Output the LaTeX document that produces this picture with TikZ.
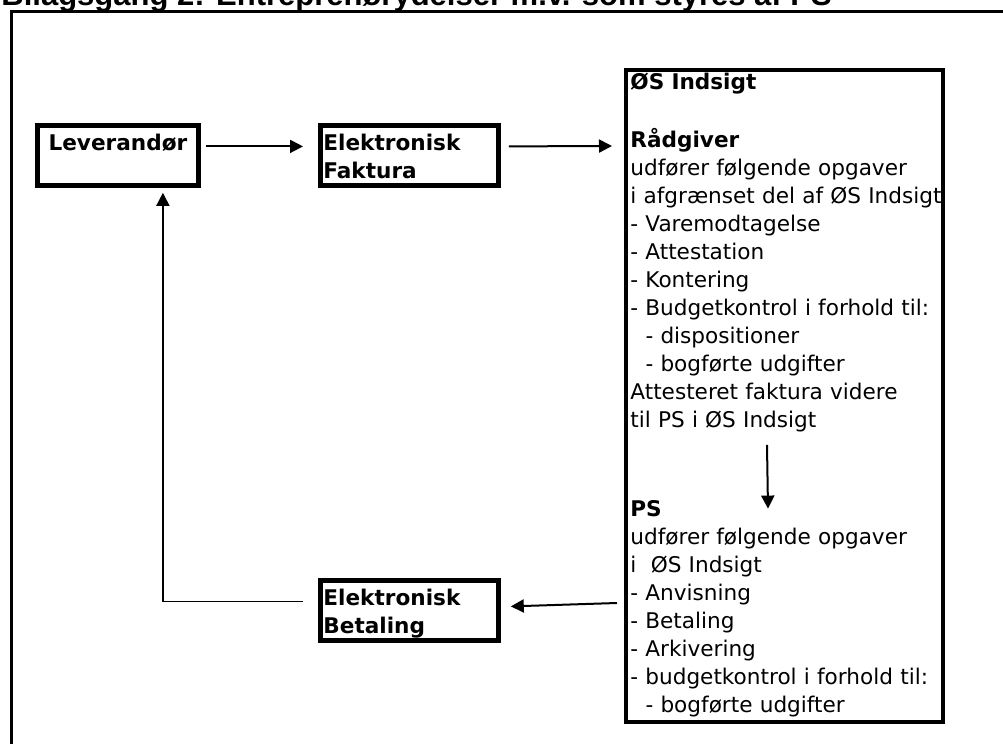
\documentclass[tikz,border=0pt]{standalone}
\usepackage{fontspec}
\setmainfont{DejaVu Sans}
\newfontfamily\titlefont{Liberation Sans}
\usetikzlibrary{arrows.meta}
\newcommand{\txtfont}{\fontsize{10.8pt}{14pt}\selectfont}
\tikzset{
  box/.style={draw, line width=2.4pt, inner xsep=1.5pt, inner ysep=2.5pt,
    text height=10pt, text depth=15pt, text width=86pt, align=left,
    font=\txtfont\bfseries, anchor=north west},
  bigbox/.style={draw, line width=2pt, inner sep=0pt, anchor=north west,
    minimum width=158.5pt, minimum height=326pt},
  txt/.style={inner sep=0pt, align=left, text width=160pt, font=\txtfont,
    anchor=base west},
  arr/.style={line width=1pt, -{Triangle[length=6.5pt, width=6.5pt]}},
  frame/.style={line width=1.5pt}
}

\begin{document}
\begin{tikzpicture}[x=0.5pt, y=-0.5pt]
    \useasboundingbox (0,0) rectangle (1003,744);
    \clip (0,0) rectangle (1003,744);
    \draw[frame] (11,11) rectangle (1030,770);
    \node[anchor=base west, inner sep=0pt, font=\titlefont\bfseries\fontsize{15.5pt}{18pt}\selectfont] (title) at (1,5) {Bilagsgang 2: Entreprenørydelser m.v. som styres af PS};

    \node[box, text width=77.5pt, align=center] (Leverandor) at (35,123) {Leverandør};
    \node[box] (Faktura) at (318,123) {Elektronisk\\Faktura};
    \node[box] (Betaling) at (318,578) {Elektronisk\\Betaling};
    \node[bigbox] (OS) at (624,68) {};

    \node[txt] (Radgiver) at (630,90) {\textbf{ØS Indsigt}\\[15pt]
      \textbf{Rådgiver}\\
      udfører følgende opgaver\\
      i afgrænset del af ØS Indsigt\\
      - Varemodtagelse\\
      - Attestation\\
      - Kontering\\
      - Budgetkontrol i forhold til:\\
      \hspace*{0.7em}- dispositioner\\
      \hspace*{0.7em}- bogførte udgifter\\
      Attesteret faktura videre\\
      til PS i ØS Indsigt};
    \node[txt] (PS) at (630,516) {\textbf{PS}\\
      udfører følgende opgaver\\
      i\ \ ØS Indsigt\\
      - Anvisning\\
      - Betaling\\
      - Arkivering\\
      - budgetkontrol i forhold til:\\
      \hspace*{0.7em}- bogførte udgifter};

    \draw[arr] ([shift={(5,-9)}]Leverandor.east) -- ([shift={(-15,-9)}]Faktura.west);
    \draw[arr] ([shift={(8,-9)}]Faktura.east) -- ([shift={(-12,78)}]OS.north west);
    \draw[arr] ([shift={(137,12)}]Radgiver.south west) -- ([shift={(138,9)}]PS.north west);
    \draw[arr] ([shift={(-7,535)}]OS.north west) -- ([shift={(10,-4)}]Betaling.east);
    \draw[arr, line width=0.8pt] ([shift={(-15,-9)}]Betaling.west) -| ([shift={(45,5)}]Leverandor.south);
\end{tikzpicture}
\end{document}
